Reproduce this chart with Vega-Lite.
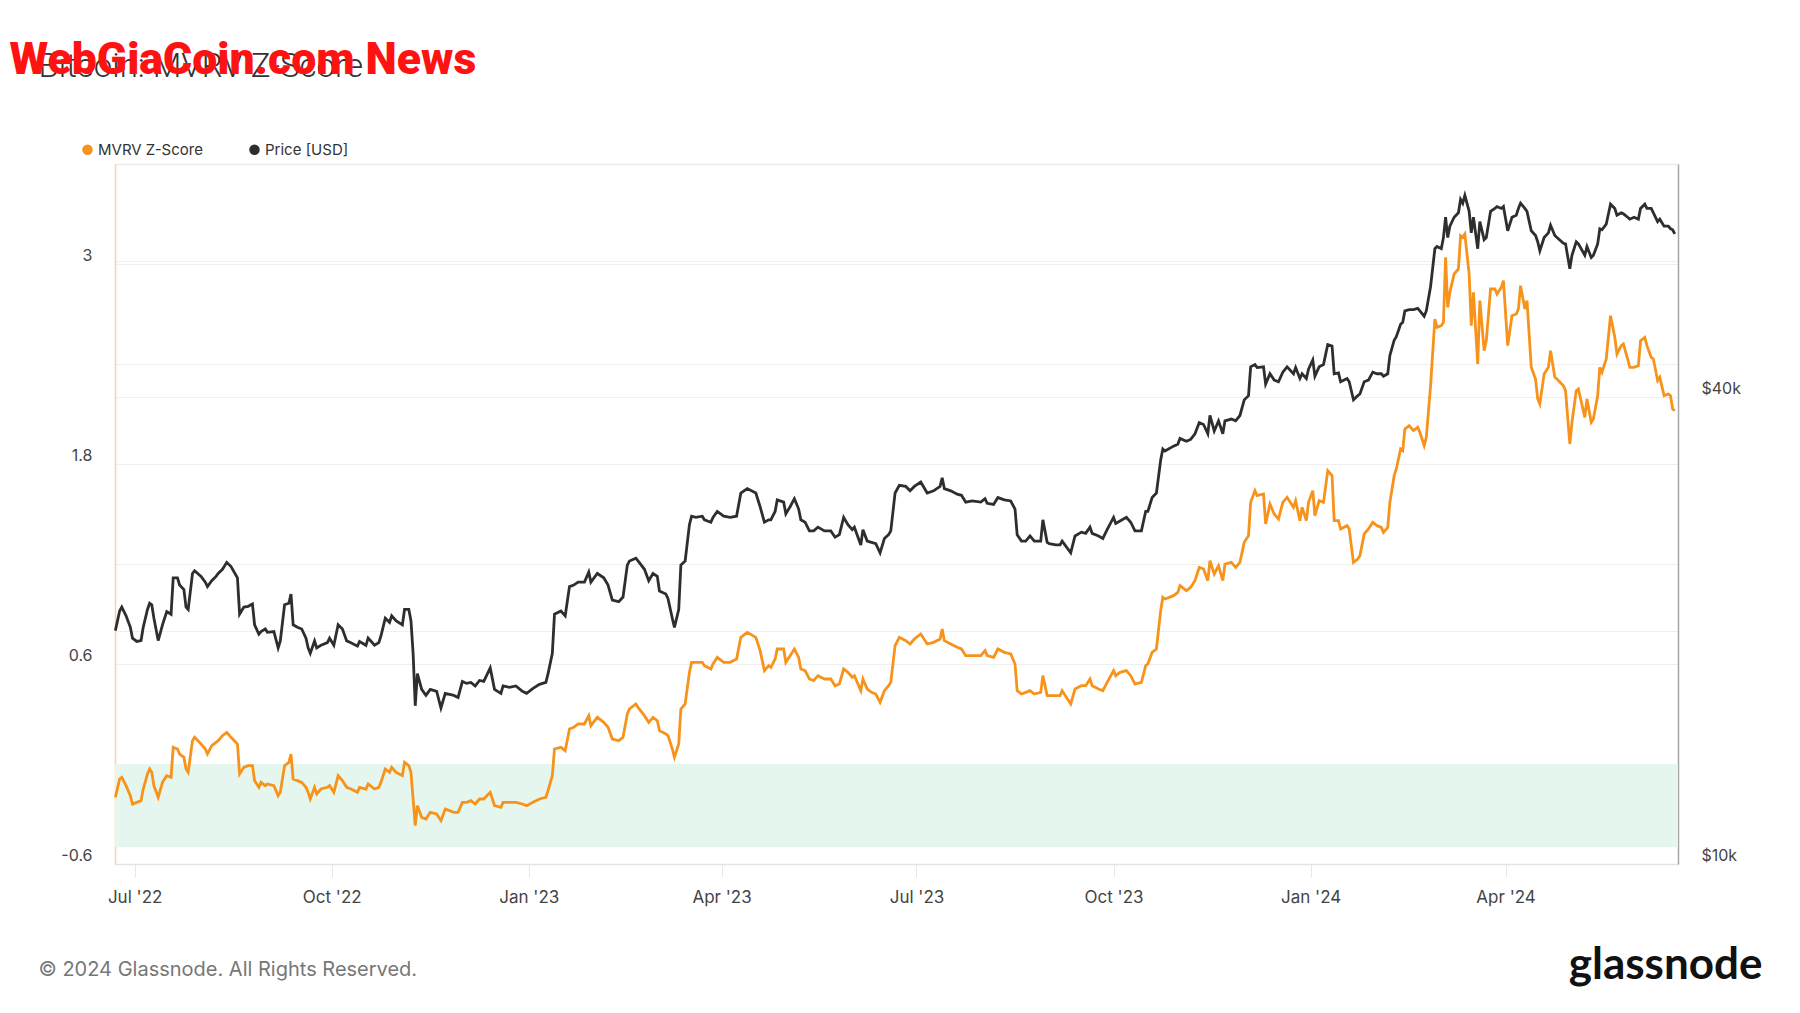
{
  "$schema": "https://vega.github.io/schema/vega-lite/v6.json",
  "autosize": {"type": "none"},
  "width": 1563,
  "height": 700,
  "padding": {"left": 115, "top": 164, "right": 122, "bottom": 149},
  "background": "#ffffff",
  "config": {"view": {"stroke": null}},
  "data": {"values": [
{"date":"2022-06-22","price":20000,"z":-0.20},{"date":"2022-06-24","price":21200,"z":-0.09},{"date":"2022-06-25","price":21450,"z":-0.08},{"date":"2022-06-27","price":20900,"z":-0.13},{"date":"2022-06-29","price":20200,"z":-0.19},{"date":"2022-06-30","price":19560,"z":-0.24},
{"date":"2022-07-02","price":19370,"z":-0.23},{"date":"2022-07-04","price":19420,"z":-0.22},{"date":"2022-07-05","price":20200,"z":-0.15},{"date":"2022-07-07","price":21300,"z":-0.06},{"date":"2022-07-08","price":21700,"z":-0.03},{"date":"2022-07-09","price":21600,"z":-0.05},{"date":"2022-07-10","price":20750,"z":-0.13},{"date":"2022-07-12","price":19420,"z":-0.20},{"date":"2022-07-14","price":20350,"z":-0.11},{"date":"2022-07-16","price":21170,"z":-0.07},{"date":"2022-07-18","price":21000,"z":-0.08},{"date":"2022-07-19","price":23400,"z":0.10},{"date":"2022-07-21","price":23400,"z":0.09},{"date":"2022-07-22","price":22900,"z":0.06},{"date":"2022-07-24","price":22600,"z":0.04},{"date":"2022-07-25","price":21450,"z":-0.03},{"date":"2022-07-26","price":21300,"z":-0.05},{"date":"2022-07-28","price":23700,"z":0.14},{"date":"2022-07-29","price":23900,"z":0.16},
{"date":"2022-08-01","price":23500,"z":0.12},{"date":"2022-08-03","price":23100,"z":0.09},{"date":"2022-08-04","price":22800,"z":0.06},{"date":"2022-08-06","price":23200,"z":0.11},{"date":"2022-08-08","price":23500,"z":0.13},{"date":"2022-08-09","price":23700,"z":0.14},{"date":"2022-08-11","price":24000,"z":0.17},{"date":"2022-08-13","price":24500,"z":0.19},{"date":"2022-08-15","price":24200,"z":0.16},{"date":"2022-08-18","price":23400,"z":0.12},{"date":"2022-08-19","price":21000,"z":-0.06},{"date":"2022-08-21","price":21450,"z":-0.02},{"date":"2022-08-23","price":21500,"z":-0.01},{"date":"2022-08-25","price":21650,"z":-0.01},{"date":"2022-08-26","price":20350,"z":-0.10},{"date":"2022-08-28","price":19800,"z":-0.14},{"date":"2022-08-29","price":19950,"z":-0.11},{"date":"2022-08-31","price":20100,"z":-0.13},
{"date":"2022-09-01","price":19900,"z":-0.12},{"date":"2022-09-04","price":19950,"z":-0.13},{"date":"2022-09-06","price":19000,"z":-0.19},{"date":"2022-09-07","price":19400,"z":-0.17},{"date":"2022-09-09","price":21600,"z":-0.01},{"date":"2022-09-11","price":21700,"z":0.01},{"date":"2022-09-12","price":22300,"z":0.06},{"date":"2022-09-13","price":20350,"z":-0.09},{"date":"2022-09-15","price":20200,"z":-0.10},{"date":"2022-09-17","price":20100,"z":-0.11},{"date":"2022-09-19","price":19560,"z":-0.14},{"date":"2022-09-20","price":19000,"z":-0.17},{"date":"2022-09-21","price":18700,"z":-0.21},{"date":"2022-09-23","price":19400,"z":-0.14},{"date":"2022-09-24","price":19000,"z":-0.18},{"date":"2022-09-26","price":19150,"z":-0.15},{"date":"2022-09-29","price":19300,"z":-0.14},{"date":"2022-09-30","price":19560,"z":-0.13},
{"date":"2022-10-02","price":19150,"z":-0.17},{"date":"2022-10-04","price":20350,"z":-0.07},{"date":"2022-10-06","price":20100,"z":-0.10},{"date":"2022-10-08","price":19400,"z":-0.14},{"date":"2022-10-10","price":19300,"z":-0.15},{"date":"2022-10-13","price":19100,"z":-0.17},{"date":"2022-10-14","price":19370,"z":-0.14},{"date":"2022-10-17","price":19150,"z":-0.15},{"date":"2022-10-18","price":19560,"z":-0.12},{"date":"2022-10-21","price":19150,"z":-0.15},{"date":"2022-10-23","price":19300,"z":-0.14},{"date":"2022-10-24","price":19700,"z":-0.11},{"date":"2022-10-26","price":20750,"z":-0.03},{"date":"2022-10-28","price":20500,"z":-0.05},{"date":"2022-10-29","price":20900,"z":-0.02},{"date":"2022-10-31","price":20600,"z":-0.05},
{"date":"2022-11-03","price":20350,"z":-0.07},{"date":"2022-11-04","price":21300,"z":0.01},{"date":"2022-11-06","price":21300,"z":-0.01},{"date":"2022-11-07","price":20600,"z":-0.05},{"date":"2022-11-08","price":18700,"z":-0.21},{"date":"2022-11-09","price":16000,"z":-0.37},{"date":"2022-11-10","price":17600,"z":-0.25},{"date":"2022-11-12","price":16800,"z":-0.32},{"date":"2022-11-14","price":16500,"z":-0.33},{"date":"2022-11-16","price":16800,"z":-0.29},{"date":"2022-11-19","price":16700,"z":-0.30},{"date":"2022-11-21","price":15900,"z":-0.34},{"date":"2022-11-23","price":16600,"z":-0.27},{"date":"2022-11-25","price":16550,"z":-0.28},{"date":"2022-11-27","price":16500,"z":-0.29},{"date":"2022-11-29","price":16400,"z":-0.29},
{"date":"2022-12-01","price":17200,"z":-0.23},{"date":"2022-12-03","price":17100,"z":-0.23},{"date":"2022-12-05","price":17150,"z":-0.22},{"date":"2022-12-07","price":16970,"z":-0.24},{"date":"2022-12-09","price":17250,"z":-0.21},{"date":"2022-12-11","price":17200,"z":-0.21},{"date":"2022-12-14","price":17900,"z":-0.17},{"date":"2022-12-16","price":16800,"z":-0.25},{"date":"2022-12-19","price":16600,"z":-0.26},{"date":"2022-12-20","price":16970,"z":-0.23},{"date":"2022-12-23","price":16900,"z":-0.23},{"date":"2022-12-26","price":16970,"z":-0.23},{"date":"2022-12-29","price":16700,"z":-0.24},{"date":"2022-12-31","price":16600,"z":-0.25},
{"date":"2023-01-03","price":16850,"z":-0.23},{"date":"2023-01-06","price":17050,"z":-0.21},{"date":"2023-01-09","price":17150,"z":-0.20},{"date":"2023-01-10","price":17600,"z":-0.16},{"date":"2023-01-12","price":18700,"z":-0.07},{"date":"2023-01-13","price":21000,"z":0.09},{"date":"2023-01-16","price":21200,"z":0.10},{"date":"2023-01-18","price":20900,"z":0.08},{"date":"2023-01-20","price":22800,"z":0.21},{"date":"2023-01-22","price":22900,"z":0.22},{"date":"2023-01-24","price":23100,"z":0.24},{"date":"2023-01-27","price":23100,"z":0.24},{"date":"2023-01-29","price":23800,"z":0.29},{"date":"2023-01-30","price":23100,"z":0.23},
{"date":"2023-02-02","price":23700,"z":0.28},{"date":"2023-02-05","price":23400,"z":0.25},{"date":"2023-02-07","price":22900,"z":0.22},{"date":"2023-02-09","price":21900,"z":0.15},{"date":"2023-02-12","price":21800,"z":0.14},{"date":"2023-02-14","price":22100,"z":0.16},{"date":"2023-02-16","price":24300,"z":0.30},{"date":"2023-02-17","price":24600,"z":0.33},{"date":"2023-02-20","price":24800,"z":0.36},{"date":"2023-02-21","price":24600,"z":0.34},{"date":"2023-02-24","price":24000,"z":0.29},{"date":"2023-02-26","price":23200,"z":0.25},{"date":"2023-02-28","price":23700,"z":0.28},
{"date":"2023-03-02","price":23500,"z":0.26},{"date":"2023-03-03","price":22500,"z":0.20},{"date":"2023-03-06","price":22300,"z":0.18},{"date":"2023-03-07","price":22000,"z":0.17},{"date":"2023-03-09","price":20750,"z":0.09},{"date":"2023-03-10","price":20200,"z":0.04},{"date":"2023-03-12","price":21300,"z":0.12},{"date":"2023-03-13","price":24300,"z":0.33},{"date":"2023-03-15","price":24600,"z":0.36},{"date":"2023-03-17","price":27400,"z":0.55},{"date":"2023-03-18","price":28100,"z":0.61},{"date":"2023-03-20","price":28000,"z":0.61},{"date":"2023-03-23","price":28100,"z":0.61},{"date":"2023-03-24","price":27800,"z":0.59},{"date":"2023-03-27","price":27600,"z":0.57},{"date":"2023-03-28","price":28000,"z":0.60},{"date":"2023-03-30","price":28500,"z":0.64},
{"date":"2023-04-02","price":28100,"z":0.61},{"date":"2023-04-05","price":28000,"z":0.61},{"date":"2023-04-08","price":28100,"z":0.63},{"date":"2023-04-10","price":30100,"z":0.76},{"date":"2023-04-13","price":30500,"z":0.79},{"date":"2023-04-17","price":30100,"z":0.76},{"date":"2023-04-19","price":28900,"z":0.68},{"date":"2023-04-21","price":27600,"z":0.56},{"date":"2023-04-23","price":27800,"z":0.59},{"date":"2023-04-24","price":27800,"z":0.58},{"date":"2023-04-26","price":28500,"z":0.63},{"date":"2023-04-27","price":29500,"z":0.69},{"date":"2023-04-30","price":29300,"z":0.69},
{"date":"2023-05-01","price":28300,"z":0.61},{"date":"2023-05-03","price":28900,"z":0.65},{"date":"2023-05-05","price":29600,"z":0.69},{"date":"2023-05-07","price":28700,"z":0.64},{"date":"2023-05-08","price":27800,"z":0.57},{"date":"2023-05-10","price":27600,"z":0.56},{"date":"2023-05-12","price":26900,"z":0.51},{"date":"2023-05-14","price":26900,"z":0.50},{"date":"2023-05-16","price":27200,"z":0.53},{"date":"2023-05-19","price":26900,"z":0.51},{"date":"2023-05-22","price":26900,"z":0.51},{"date":"2023-05-24","price":26400,"z":0.47},{"date":"2023-05-26","price":26600,"z":0.48},{"date":"2023-05-28","price":28000,"z":0.57},{"date":"2023-05-30","price":27400,"z":0.55},
{"date":"2023-06-01","price":27000,"z":0.52},{"date":"2023-06-02","price":27200,"z":0.53},{"date":"2023-06-05","price":25800,"z":0.44},{"date":"2023-06-06","price":27000,"z":0.51},{"date":"2023-06-08","price":26100,"z":0.45},{"date":"2023-06-10","price":26000,"z":0.43},{"date":"2023-06-12","price":25900,"z":0.42},{"date":"2023-06-14","price":25200,"z":0.37},{"date":"2023-06-16","price":26300,"z":0.44},{"date":"2023-06-18","price":26600,"z":0.47},{"date":"2023-06-19","price":26900,"z":0.49},{"date":"2023-06-21","price":30100,"z":0.71},{"date":"2023-06-23","price":30800,"z":0.76},{"date":"2023-06-26","price":30700,"z":0.74},{"date":"2023-06-28","price":30300,"z":0.72},{"date":"2023-06-30","price":30700,"z":0.75},
{"date":"2023-07-03","price":31100,"z":0.78},{"date":"2023-07-06","price":30100,"z":0.72},{"date":"2023-07-09","price":30300,"z":0.73},{"date":"2023-07-12","price":30700,"z":0.75},{"date":"2023-07-13","price":31500,"z":0.81},{"date":"2023-07-14","price":30500,"z":0.74},{"date":"2023-07-17","price":30300,"z":0.72},{"date":"2023-07-20","price":30000,"z":0.70},{"date":"2023-07-22","price":29900,"z":0.69},{"date":"2023-07-24","price":29300,"z":0.65},{"date":"2023-07-27","price":29400,"z":0.65},{"date":"2023-07-31","price":29300,"z":0.65},
{"date":"2023-08-02","price":29600,"z":0.68},{"date":"2023-08-03","price":29200,"z":0.65},{"date":"2023-08-06","price":29100,"z":0.64},{"date":"2023-08-08","price":29700,"z":0.69},{"date":"2023-08-11","price":29500,"z":0.67},{"date":"2023-08-14","price":29400,"z":0.66},{"date":"2023-08-16","price":28700,"z":0.60},{"date":"2023-08-17","price":26600,"z":0.44},{"date":"2023-08-19","price":26100,"z":0.42},{"date":"2023-08-21","price":26100,"z":0.43},{"date":"2023-08-23","price":26500,"z":0.44},{"date":"2023-08-25","price":26100,"z":0.42},{"date":"2023-08-28","price":26100,"z":0.43},{"date":"2023-08-29","price":27800,"z":0.53},{"date":"2023-08-31","price":26000,"z":0.41},
{"date":"2023-09-01","price":25900,"z":0.41},{"date":"2023-09-04","price":25800,"z":0.41},{"date":"2023-09-06","price":25800,"z":0.41},{"date":"2023-09-07","price":26100,"z":0.44},{"date":"2023-09-11","price":25200,"z":0.36},{"date":"2023-09-13","price":26500,"z":0.45},{"date":"2023-09-16","price":26800,"z":0.47},{"date":"2023-09-18","price":26700,"z":0.47},{"date":"2023-09-20","price":27200,"z":0.51},{"date":"2023-09-21","price":26700,"z":0.47},{"date":"2023-09-24","price":26500,"z":0.45},{"date":"2023-09-26","price":26300,"z":0.44},{"date":"2023-09-28","price":27000,"z":0.49},
{"date":"2023-10-01","price":28000,"z":0.56},{"date":"2023-10-02","price":27500,"z":0.53},{"date":"2023-10-04","price":27700,"z":0.55},{"date":"2023-10-07","price":28000,"z":0.56},{"date":"2023-10-09","price":27600,"z":0.53},{"date":"2023-10-11","price":26900,"z":0.48},{"date":"2023-10-14","price":26900,"z":0.49},{"date":"2023-10-16","price":28500,"z":0.59},{"date":"2023-10-17","price":28500,"z":0.60},{"date":"2023-10-19","price":29700,"z":0.67},{"date":"2023-10-21","price":30100,"z":0.69},{"date":"2023-10-23","price":33200,"z":0.92},{"date":"2023-10-24","price":34300,"z":1.00},{"date":"2023-10-25","price":34100,"z":0.99},{"date":"2023-10-29","price":34600,"z":1.01},{"date":"2023-10-31","price":34800,"z":1.03},
{"date":"2023-11-01","price":35400,"z":1.07},{"date":"2023-11-04","price":35100,"z":1.04},{"date":"2023-11-06","price":35300,"z":1.06},{"date":"2023-11-08","price":35900,"z":1.10},{"date":"2023-11-10","price":37100,"z":1.18},{"date":"2023-11-12","price":36900,"z":1.17},{"date":"2023-11-14","price":35900,"z":1.10},{"date":"2023-11-15","price":37900,"z":1.22},{"date":"2023-11-17","price":36200,"z":1.14},{"date":"2023-11-19","price":37300,"z":1.19},{"date":"2023-11-21","price":35900,"z":1.10},{"date":"2023-11-22","price":37300,"z":1.20},{"date":"2023-11-25","price":37500,"z":1.21},{"date":"2023-11-27","price":37300,"z":1.18},{"date":"2023-11-29","price":37900,"z":1.21},
{"date":"2023-12-01","price":39700,"z":1.33},{"date":"2023-12-03","price":40200,"z":1.37},{"date":"2023-12-04","price":43800,"z":1.57},{"date":"2023-12-06","price":44100,"z":1.64},{"date":"2023-12-07","price":43700,"z":1.61},{"date":"2023-12-10","price":43800,"z":1.62},{"date":"2023-12-11","price":41600,"z":1.44},{"date":"2023-12-13","price":42900,"z":1.56},{"date":"2023-12-15","price":42100,"z":1.50},{"date":"2023-12-17","price":41900,"z":1.47},{"date":"2023-12-19","price":43100,"z":1.57},{"date":"2023-12-21","price":43800,"z":1.60},{"date":"2023-12-24","price":42900,"z":1.54},{"date":"2023-12-25","price":43700,"z":1.58},{"date":"2023-12-27","price":42300,"z":1.46},{"date":"2023-12-28","price":42900,"z":1.54},{"date":"2023-12-30","price":42300,"z":1.46},{"date":"2023-12-31","price":43500,"z":1.57},
{"date":"2024-01-02","price":44700,"z":1.64},{"date":"2024-01-03","price":42600,"z":1.49},{"date":"2024-01-05","price":43800,"z":1.58},{"date":"2024-01-07","price":44100,"z":1.57},{"date":"2024-01-09","price":46800,"z":1.76},{"date":"2024-01-11","price":46600,"z":1.73},{"date":"2024-01-12","price":42900,"z":1.46},{"date":"2024-01-14","price":43000,"z":1.46},{"date":"2024-01-15","price":41900,"z":1.41},{"date":"2024-01-18","price":42300,"z":1.43},{"date":"2024-01-19","price":41900,"z":1.41},{"date":"2024-01-21","price":39700,"z":1.21},{"date":"2024-01-23","price":40200,"z":1.23},{"date":"2024-01-24","price":40400,"z":1.25},{"date":"2024-01-26","price":41900,"z":1.38},{"date":"2024-01-28","price":42100,"z":1.41},{"date":"2024-01-30","price":43100,"z":1.45},
{"date":"2024-02-01","price":42900,"z":1.43},{"date":"2024-02-03","price":42900,"z":1.42},{"date":"2024-02-04","price":42600,"z":1.39},{"date":"2024-02-06","price":42900,"z":1.42},{"date":"2024-02-07","price":45300,"z":1.57},{"date":"2024-02-09","price":47400,"z":1.73},{"date":"2024-02-10","price":47900,"z":1.77},{"date":"2024-02-12","price":49700,"z":1.89},{"date":"2024-02-13","price":50000,"z":1.88},{"date":"2024-02-14","price":51700,"z":2.01},{"date":"2024-02-16","price":51900,"z":2.03},{"date":"2024-02-18","price":51900,"z":2.00},{"date":"2024-02-20","price":52100,"z":2.02},{"date":"2024-02-21","price":51700,"z":1.99},{"date":"2024-02-23","price":50900,"z":1.91},{"date":"2024-02-24","price":51700,"z":1.96},{"date":"2024-02-26","price":55600,"z":2.27},{"date":"2024-02-28","price":62200,"z":2.67},{"date":"2024-02-29","price":62600,"z":2.62},
{"date":"2024-03-02","price":62200,"z":2.63},{"date":"2024-03-03","price":64300,"z":2.65},{"date":"2024-03-04","price":68300,"z":3.04},{"date":"2024-03-05","price":64300,"z":2.74},{"date":"2024-03-06","price":66500,"z":2.83},{"date":"2024-03-08","price":68300,"z":2.94},{"date":"2024-03-10","price":69200,"z":2.97},{"date":"2024-03-11","price":72000,"z":3.17},{"date":"2024-03-12","price":71200,"z":3.16},{"date":"2024-03-13","price":72900,"z":3.18},{"date":"2024-03-15","price":69500,"z":2.94},{"date":"2024-03-16","price":65200,"z":2.63},{"date":"2024-03-17","price":68300,"z":2.83},{"date":"2024-03-19","price":62200,"z":2.40},{"date":"2024-03-20","price":67400,"z":2.78},{"date":"2024-03-22","price":63900,"z":2.48},{"date":"2024-03-23","price":64300,"z":2.54},{"date":"2024-03-25","price":69500,"z":2.85},{"date":"2024-03-27","price":70100,"z":2.85},{"date":"2024-03-28","price":70500,"z":2.82},{"date":"2024-03-30","price":70100,"z":2.86},{"date":"2024-03-31","price":70500,"z":2.90},
{"date":"2024-04-02","price":65600,"z":2.51},{"date":"2024-04-04","price":68300,"z":2.69},{"date":"2024-04-06","price":68700,"z":2.70},{"date":"2024-04-07","price":70100,"z":2.73},{"date":"2024-04-08","price":71200,"z":2.87},{"date":"2024-04-10","price":70100,"z":2.73},{"date":"2024-04-11","price":69500,"z":2.78},{"date":"2024-04-13","price":65600,"z":2.38},{"date":"2024-04-15","price":64700,"z":2.31},{"date":"2024-04-16","price":63500,"z":2.19},{"date":"2024-04-17","price":61800,"z":2.16},{"date":"2024-04-19","price":64300,"z":2.34},{"date":"2024-04-21","price":65200,"z":2.38},{"date":"2024-04-22","price":66700,"z":2.48},{"date":"2024-04-24","price":64700,"z":2.32},{"date":"2024-04-25","price":64300,"z":2.31},{"date":"2024-04-28","price":63200,"z":2.27},{"date":"2024-04-29","price":63100,"z":2.24},
{"date":"2024-05-01","price":58600,"z":1.92},{"date":"2024-05-02","price":61000,"z":2.05},{"date":"2024-05-04","price":63500,"z":2.24},{"date":"2024-05-05","price":63100,"z":2.25},{"date":"2024-05-08","price":61000,"z":2.08},{"date":"2024-05-09","price":62600,"z":2.19},{"date":"2024-05-11","price":60600,"z":2.05},{"date":"2024-05-12","price":61000,"z":2.07},{"date":"2024-05-14","price":63100,"z":2.21},{"date":"2024-05-15","price":66000,"z":2.38},{"date":"2024-05-16","price":65800,"z":2.35},{"date":"2024-05-18","price":66900,"z":2.43},{"date":"2024-05-20","price":71000,"z":2.69},{"date":"2024-05-22","price":70100,"z":2.56},{"date":"2024-05-23","price":68700,"z":2.46},{"date":"2024-05-25","price":69200,"z":2.51},{"date":"2024-05-26","price":69000,"z":2.52},{"date":"2024-05-28","price":68300,"z":2.43},{"date":"2024-05-29","price":67900,"z":2.38},{"date":"2024-05-31","price":68300,"z":2.38},
{"date":"2024-06-02","price":67900,"z":2.39},{"date":"2024-06-03","price":70100,"z":2.54},{"date":"2024-06-05","price":71000,"z":2.56},{"date":"2024-06-06","price":70100,"z":2.51},{"date":"2024-06-08","price":70100,"z":2.44},{"date":"2024-06-09","price":69200,"z":2.43},{"date":"2024-06-11","price":67400,"z":2.30},{"date":"2024-06-12","price":67900,"z":2.32},{"date":"2024-06-14","price":66500,"z":2.21},{"date":"2024-06-16","price":66500,"z":2.22},{"date":"2024-06-17","price":66000,"z":2.21},{"date":"2024-06-18","price":65800,"z":2.13},{"date":"2024-06-19","price":65000,"z":2.12}
  ]},
  "resolve": {"scale": {"y": "independent"}, "axis": {"y": "independent", "x": "independent"}},
  "layer": [
    {
      "layer": [
        {
          "data": {"values": [{"lo": -0.5, "hi": 0}]},
          "mark": {"type": "rect", "color": "#e5f6ee"},
          "encoding": {
            "y": {
              "field": "lo", "type": "quantitative",
              "scale": {"domain": [-0.6, 3.6], "nice": false, "zero": false},
              "axis": {
                "orient": "left",
                "values": [-0.6, 0, 0.6, 1.2, 1.8, 2.4, 3, 3.6],
                "labelExpr": "abs(datum.value - 3) < 0.01 ? '3' : abs(datum.value - 1.8) < 0.01 ? '1.8' : abs(datum.value - 0.6) < 0.01 ? '0.6' : abs(datum.value + 0.6) < 0.01 ? '-0.6' : ''",
                "grid": true, "gridColor": "#efefef", "gridWidth": 1,
                "ticks": false, "domain": true, "domainColor": "#fcd0a0", "domainWidth": 1.5,
                "labelPadding": 23, "labelOffset": -9, "labelFont": "Inter", "labelFontSize": 16, "labelColor": "#444444", "labelBound": false, "labelFlush": false,
                "title": "WebGiaCoin.com News",
                "titleX": -106, "titleY": -91, "titleAngle": 0, "titleAlign": "left", "titleAnchor": null, "titleBaseline": "alphabetic",
                "titleFont": "Roboto", "titleFontSize": 44.5, "titleFontWeight": 900, "titleColor": "#ff1212"
              }
            },
            "y2": {"field": "hi"}
          }
        },
        {
          "mark": {"type": "line", "strokeWidth": 2.8, "interpolate": "linear"},
          "encoding": {
            "x": {
              "field": "date", "type": "temporal",
              "scale": {"type": "utc", "domain": [{"year": 2022, "month": 6, "date": 21, "hours": 20, "utc": true}, {"year": 2024, "month": 6, "date": 20, "hours": 12, "utc": true}]},
              "axis": {
                "orient": "bottom",
                "values": [
                  {"year": 2022, "month": 7, "date": 1, "utc": true},
                  {"year": 2022, "month": 10, "date": 1, "utc": true},
                  {"year": 2023, "month": 1, "date": 1, "utc": true},
                  {"year": 2023, "month": 4, "date": 1, "utc": true},
                  {"year": 2023, "month": 7, "date": 1, "utc": true},
                  {"year": 2023, "month": 10, "date": 1, "utc": true},
                  {"year": 2024, "month": 1, "date": 1, "utc": true},
                  {"year": 2024, "month": 4, "date": 1, "utc": true}
                ],
                "labelExpr": "utcFormat(datum.value, \"%b '%y\")",
                "grid": false, "ticks": true, "tickSize": 13, "tickColor": "#e8e8e8", "tickWidth": 1,
                "domain": true, "domainColor": "#e4e4e4", "domainWidth": 1.5,
                "labelPadding": 12, "labelFont": "Inter", "labelFontSize": 17, "labelColor": "#444444", "labelFlush": false,
                "title": "© 2024 Glassnode. All Rights Reserved.",
                "titleX": -77, "titleY": 111, "titleAlign": "left", "titleAnchor": null, "titleBaseline": "alphabetic",
                "titleFont": "Inter", "titleFontSize": 20, "titleFontWeight": "normal", "titleColor": "#777777"
              }
            },
            "y": {
              "field": "z", "type": "quantitative",
              "scale": {"domain": [-0.6, 3.6], "nice": false, "zero": false},
              "axis": {
                "orient": "left",
                "values": [-0.6, 0, 0.6, 1.2, 1.8, 2.4, 3, 3.6],
                "labelExpr": "abs(datum.value - 3) < 0.01 ? '3' : abs(datum.value - 1.8) < 0.01 ? '1.8' : abs(datum.value - 0.6) < 0.01 ? '0.6' : abs(datum.value + 0.6) < 0.01 ? '-0.6' : ''",
                "grid": true, "gridColor": "#efefef", "gridWidth": 1,
                "ticks": false, "domain": true, "domainColor": "#fcd0a0", "domainWidth": 1.5,
                "labelPadding": 23, "labelOffset": -9, "labelFont": "Inter", "labelFontSize": 16, "labelColor": "#444444", "labelBound": false, "labelFlush": false,
                "title": "WebGiaCoin.com News",
                "titleX": -106, "titleY": -91, "titleAngle": 0, "titleAlign": "left", "titleAnchor": null, "titleBaseline": "alphabetic",
                "titleFont": "Roboto", "titleFontSize": 44.5, "titleFontWeight": 900, "titleColor": "#ff1212"
              }
            },
            "color": {
              "datum": "MVRV Z-Score",
              "scale": {"domain": ["MVRV Z-Score", "Price [USD]"], "range": ["#f7931a", "#2e2e2e"]},
              "legend": {
                "orient": "none", "legendX": -35, "legendY": -22, "direction": "horizontal", "title": null,
                "symbolType": "circle", "symbolSize": 110, "symbolStrokeWidth": 0,
                "labelFont": "Inter", "labelFontSize": 15, "labelColor": "#333333",
                "columnPadding": 44, "labelOffset": 3, "padding": 0,
                "encode": {"symbols": {"update": {"fill": {"scale": "color", "field": "value"}, "fillOpacity": {"value": 1}, "strokeWidth": {"value": 0}}}}
              }
            }
          }
        }
      ]
    },
    {
      "mark": {"type": "line", "strokeWidth": 2.8, "interpolate": "linear"},
      "encoding": {
        "x": {
          "field": "date", "type": "temporal",
          "scale": {"type": "utc", "domain": [{"year": 2022, "month": 6, "date": 21, "hours": 20, "utc": true}, {"year": 2024, "month": 6, "date": 20, "hours": 12, "utc": true}]},
          "axis": {
            "orient": "top", "labels": false, "ticks": false, "grid": false,
            "domain": true, "domainColor": "#ececec", "domainWidth": 1.5,
            "title": "Bitcoin: MVRV Z-Score",
            "titleX": -77, "titleY": -88, "titleAlign": "left", "titleAnchor": null, "titleBaseline": "alphabetic",
            "titleFont": "Roboto", "titleFontSize": 33, "titleFontWeight": 300, "titleColor": "#333333"
          }
        },
        "y": {
          "field": "price", "type": "quantitative",
          "scale": {"type": "log", "domain": [10000, 80000], "nice": false},
          "axis": {
            "orient": "right",
            "values": [10000, 20000, 40000, 60000],
            "labelExpr": "datum.value == 10000 ? '$10k' : datum.value == 40000 ? '$40k' : ''",
            "grid": true, "gridColor": "#efefef", "gridWidth": 1,
            "ticks": false, "domain": true, "domainColor": "#a6a6a6", "domainWidth": 1.5,
            "labelPadding": 23, "labelOffset": -9, "labelFont": "Inter", "labelFontSize": 16, "labelColor": "#444444", "labelBound": false, "labelFlush": false,
            "title": "glassnode",
            "titleX": 84, "titleY": 814, "titleAngle": 0, "titleAlign": "right", "titleAnchor": null, "titleBaseline": "alphabetic",
            "titleFont": "Lato", "titleFontSize": 44, "titleFontWeight": "bold", "titleColor": "#111111"
          }
        },
        "color": {"datum": "Price [USD]"}
      }
    }
  ]
}
